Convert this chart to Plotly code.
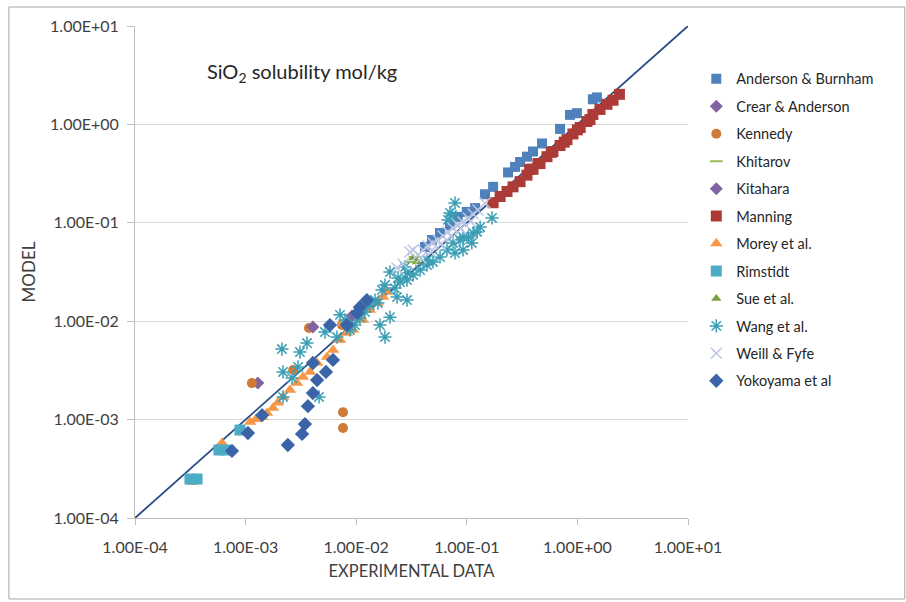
import plotly.graph_objects as go

# ---- data (experimental, model) mol/kg ----
anderson_x = [0.0419, 0.0484, 0.0572, 0.0705, 0.083, 0.100, 0.119, 0.146, 0.173, 0.236, 0.273, 0.303, 0.350, 0.397, 0.479, 0.697, 0.857, 0.99, 1.38, 1.50]
anderson_y = [0.0568, 0.0669, 0.0787, 0.095, 0.115, 0.129, 0.141, 0.195, 0.232, 0.325, 0.37, 0.415, 0.47, 0.53, 0.64, 0.90, 1.25, 1.30, 1.80, 1.88]

crear_x = [1.29e-3]
crear_y = [2.35e-3]

kennedy_x = [1.14e-3, 3.74e-3, 2.69e-3, 7.60e-3, 7.60e-3, 7.45e-3]
kennedy_y = [2.35e-3, 8.53e-3, 3.19e-3, 1.19e-3, 8.23e-4, 9.14e-3]

khitarov_x = [3.06e-2, 3.40e-2]
khitarov_y = [4.00e-2, 4.49e-2]

kitahara_x = [4.06e-3, 9.16e-3]
kitahara_y = [8.73e-3, 1.13e-2]

manning_x = [0.173, 0.200, 0.231, 0.262, 0.303, 0.350, 0.397, 0.459, 0.531, 0.601, 0.697, 0.805, 0.912, 1.06, 1.22, 1.38, 1.60, 1.85, 2.10, 2.40,
             0.37, 0.44, 0.58, 0.76, 1.00, 1.30]
manning_y = [0.160, 0.185, 0.208, 0.232, 0.262, 0.305, 0.350, 0.400, 0.470, 0.530, 0.610, 0.700, 0.800, 0.930, 1.07, 1.26, 1.42, 1.60, 1.76, 2.02,
             0.35, 0.40, 0.52, 0.66, 0.88, 1.12]

morey_x = [3.27e-4, 6.12e-4, 1.10e-3, 1.24e-3, 1.41e-3, 1.56e-3, 1.77e-3, 1.96e-3, 2.18e-3, 2.52e-3, 2.92e-3, 3.30e-3, 3.82e-3, 4.43e-3, 5.45e-3, 6.17e-3, 7.14e-3, 8.26e-3, 7.60e-3, 9.35e-3, 1.15e-2, 1.33e-2, 1.57e-2, 1.75e-2, 1.90e-2]
morey_y = [2.32e-4, 5.78e-4, 9.46e-4, 1.01e-3, 1.06e-3, 1.17e-3, 1.31e-3, 1.48e-3, 1.70e-3, 2.00e-3, 2.35e-3, 2.71e-3, 3.05e-3, 3.76e-3, 4.33e-3, 5.09e-3, 6.44e-3, 7.59e-3, 9.60e-3, 8.15e-3, 1.03e-2, 1.30e-2, 1.53e-2, 1.76e-2, 1.98e-2]

rimstidt_x = [3.14e-4, 3.64e-4, 5.74e-4, 6.52e-4, 8.89e-4]
rimstidt_y = [2.49e-4, 2.49e-4, 4.91e-4, 4.91e-4, 7.83e-4]

sue_x = [3.27e-2, 3.55e-2]
sue_y = [4.39e-2, 4.00e-2]

wang_x = [2.13e-3, 3.10e-3, 3.59e-3, 2.18e-3, 2.63e-3, 2.18e-3, 4.61e-3, 2.98e-3, 5.22e-3, 7.14e-3,
          6.70e-3, 7.93e-3, 8.79e-3, 1.08e-2, 9.75e-3, 1.20e-2, 1.33e-2, 1.48e-2, 1.82e-2, 2.02e-2,
          1.64e-2, 2.88e-2, 2.34e-2, 1.71e-2, 1.57e-2, 2.39e-2, 2.02e-2, 2.88e-2, 2.76e-2, 1.82e-2,
          2.24e-2, 7.82e-2, 7.35e-2, 0.169, 0.132, 0.114, 0.0925, 0.0750, 0.0662, 0.0573,
          0.0494, 0.0437, 0.0378, 0.0327, 0.0288, 0.0249, 0.0705, 0.0676, 0.124, 0.103,
          0.0869, 0.111, 0.0925, 0.0782, 0.0437]
wang_y = [5.21e-3, 4.86e-3, 6.00e-3, 3.05e-3, 2.65e-3, 1.70e-3, 1.70e-3, 3.43e-3, 7.76e-3, 1.16e-2,
          6.90e-3, 1.03e-2, 8.15e-3, 1.08e-2, 9.14e-3, 1.24e-2, 1.46e-2, 1.64e-2, 6.90e-3, 1.10e-2,
          9.14e-3, 1.64e-2, 1.76e-2, 2.07e-2, 1.53e-2, 2.75e-2, 3.16e-2, 3.09e-2, 3.56e-2, 2.33e-2,
          2.17e-2, 0.159, 0.120, 0.112, 0.0906, 0.0787, 0.0718, 0.0624, 0.0530, 0.0449,
          0.0400, 0.0372, 0.0331, 0.0295, 0.0262, 0.0250, 0.126, 0.107, 0.0807, 0.0718,
          0.0668, 0.0624, 0.0530, 0.0493, 0.0419]

weill_x = [0.0234, 0.0265, 0.0306, 0.0327, 0.0362, 0.0402, 0.0446, 0.0494, 0.0549, 0.0610, 0.0676, 0.0750, 0.0832, 0.0924, 0.103, 0.114, 0.126, 0.146,
           0.0385, 0.0470, 0.0580, 0.0720, 0.088, 0.108]
weill_y = [0.0348, 0.0381, 0.0505, 0.0530, 0.0471, 0.0530, 0.0581, 0.0624, 0.0669, 0.0735, 0.0807, 0.0885, 0.0951, 0.102, 0.112, 0.123, 0.135, 0.159,
           0.0440, 0.0510, 0.0600, 0.0730, 0.087, 0.103]

yokoyama_x = [2.41e-3, 7.53e-4, 1.05e-3, 1.41e-3, 3.24e-3, 3.44e-3, 3.66e-3, 4.06e-3, 4.43e-3, 4.06e-3, 5.33e-3, 6.17e-3, 8.26e-3, 5.79e-3, 1.25e-2, 1.08e-2, 1.02e-2]
yokoyama_y = [5.52e-4, 4.80e-4, 7.31e-4, 1.11e-3, 7.15e-4, 9.01e-4, 1.37e-3, 1.86e-3, 2.52e-3, 3.76e-3, 3.05e-3, 4.04e-3, 9.14e-3, 9.14e-3, 1.64e-2, 1.39e-2, 1.21e-2]

parity = [1e-4, 1e1]

tick_vals = [1e-4, 1e-3, 1e-2, 1e-1, 1e0, 1e1]
tick_text = ["1.00E-04", "1.00E-03", "1.00E-02", "1.00E-01", "1.00E+00", "1.00E+01"]

FONT = "Lato"
TXT = "#404040"

fig = go.Figure()

# parity line drawn first (markers sit on top of it)
fig.add_trace(go.Scatter(x=parity, y=parity, mode="lines", line=dict(color="#264B86", width=1.8),
                         showlegend=False, hoverinfo="skip"))

series = [
    ("Anderson & Burnham", anderson_x, anderson_y, dict(symbol="square", size=10, color="#4F81BD")),
    ("Crear & Anderson", crear_x, crear_y, dict(symbol="diamond", size=10, color="#8064A2")),
    ("Kennedy", kennedy_x, kennedy_y, dict(symbol="circle", size=10, color="#CF7A36")),
    ("Khitarov", khitarov_x, khitarov_y, dict(symbol="line-ew", size=9, color="#9BBB59", line=dict(color="#9BBB59", width=2))),
    ("Kitahara", kitahara_x, kitahara_y, dict(symbol="diamond", size=10, color="#8064A2")),
    ("Manning", manning_x, manning_y, dict(symbol="square", size=11, color="#AC3B38")),
    ("Morey et al.", morey_x, morey_y, dict(symbol="triangle-up", size=11, color="#F79646")),
    ("Rimstidt", rimstidt_x, rimstidt_y, dict(symbol="square", size=11, color="#4BACC6")),
    ("Sue et al.", sue_x, sue_y, dict(symbol="triangle-up", size=9, color="#77A03F")),
    ("Wang et al.", wang_x, wang_y, dict(symbol="asterisk", size=11, color="#3A9EB5", line=dict(color="#3A9EB5", width=1.5))),
    ("Weill & Fyfe", weill_x, weill_y, dict(symbol="x-thin", size=11, color="#BCC6E2", line=dict(color="#BCC6E2", width=1.5))),
    ("Yokoyama et al", yokoyama_x, yokoyama_y, dict(symbol="diamond", size=11, color="#3A63A8")),
]

for i, (name, xs, ys, mk) in enumerate(series):
    fig.add_trace(go.Scatter(x=xs, y=ys, mode="markers", name=name, marker=mk,
                             legendgroup=f"g{i}", cliponaxis=False))

fig.update_layout(
    width=906, height=602,
    margin=dict(l=135, r=218, t=26, b=84),
    paper_bgcolor="white", plot_bgcolor="white",
    font=dict(family=FONT, size=14, color=TXT),
    showlegend=True,
    legend=dict(x=1.015, y=0.925, xanchor="left", yanchor="top",
                font=dict(family=FONT, size=14.5, color="#262626"),
                traceorder="grouped", tracegroupgap=5.6,
                itemwidth=30, bgcolor="rgba(0,0,0,0)"),
    xaxis=dict(type="log", range=[-4, 1], tickvals=tick_vals, ticktext=tick_text,
               showgrid=False, zeroline=False, showline=True, linecolor="#BFBFBF", linewidth=1,
               ticks="outside", ticklen=6, tickcolor="#BFBFBF", ticklabelstandoff=9,
               tickfont=dict(family=FONT, size=16, color=TXT),
               title=dict(text="EXPERIMENTAL DATA", font=dict(family=FONT, size=16.5, color=TXT), standoff=10)),
    yaxis=dict(type="log", range=[-4, 1], tickvals=tick_vals, ticktext=tick_text,
               showgrid=True, gridcolor="#D9D9D9", gridwidth=1, zeroline=False,
               showline=True, linecolor="#BFBFBF", linewidth=1,
               ticks="outside", ticklen=7, tickcolor="#BFBFBF", ticklabelstandoff=5,
               tickfont=dict(family=FONT, size=16, color=TXT),
               title=dict(text="MODEL", font=dict(family=FONT, size=17, color=TXT), standoff=10)),
    annotations=[dict(text="SiO<sub>2</sub> solubility mol/kg", xref="paper", yref="paper",
                      x=0.1266, y=0.906, xanchor="left", yanchor="middle", showarrow=False,
                      font=dict(family=FONT, size=20, color="#262626"))],
    shapes=[dict(type="rect", xref="paper", yref="paper", x0=-0.228, x1=1.392, y0=-0.1646, y1=1.0386,
                 line=dict(color="#A6A6A6", width=1), fillcolor="rgba(0,0,0,0)", layer="below")],
)

fig.write_html("out.html")
